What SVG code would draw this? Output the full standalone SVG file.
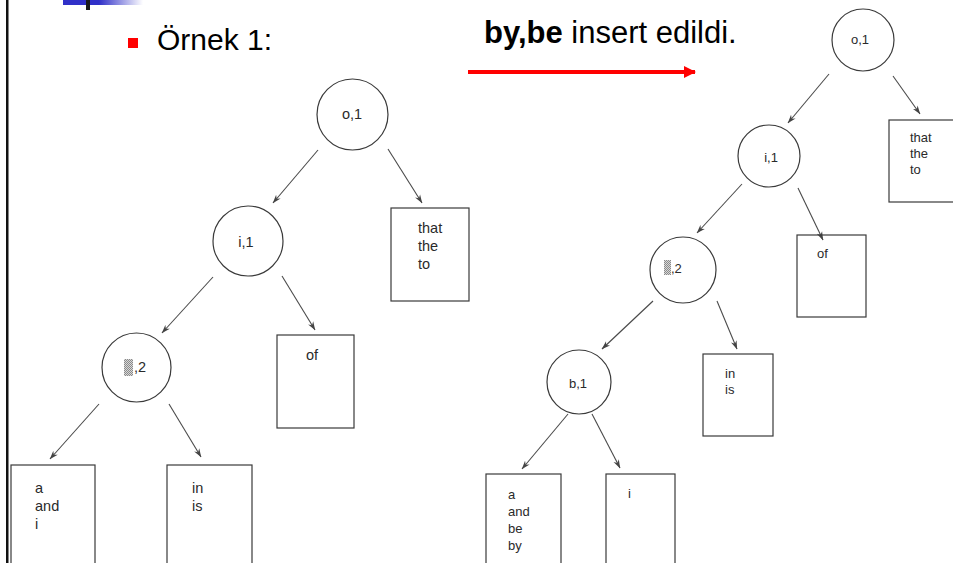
<svg xmlns="http://www.w3.org/2000/svg" width="953" height="563" viewBox="0 0 953 563">
  <defs>
    <linearGradient id="barFade" x1="0" y1="0" x2="1" y2="0">
      <stop offset="0" stop-color="#3030c8"/>
      <stop offset="0.45" stop-color="#3030c8"/>
      <stop offset="1" stop-color="#3030c8" stop-opacity="0"/>
    </linearGradient>
    <pattern id="stipple" width="2" height="2" patternUnits="userSpaceOnUse">
      <rect width="2" height="2" fill="#d8d8d8"/>
      <rect width="1" height="1" fill="#8a8a8a"/>
      <rect x="1" y="1" width="1" height="1" fill="#8a8a8a"/>
    </pattern>
    <marker id="tip" viewBox="0 0 10 8" refX="9.5" refY="4" markerWidth="9" markerHeight="7" markerUnits="userSpaceOnUse" orient="auto">
      <path d="M0,0.6 L10,4 L0,7.4 L3,4 Z" fill="#444"/>
    </marker>
    <marker id="redTip" viewBox="0 0 12 12" refX="11" refY="6" markerWidth="12" markerHeight="12" markerUnits="userSpaceOnUse" orient="auto">
      <path d="M0,0 L12,6 L0,12 Z" fill="#ff0000"/>
    </marker>
  </defs>
  <style>
    .node { fill: none; stroke: #3a3a3a; stroke-width: 1.2; }
    .lbl { font-family: "Liberation Sans", Arial, sans-serif; fill: #2a2a2a; }
    .lbL { font-size: 14.5px; }
    .lbR { font-size: 13px; }
    .edge { stroke: #4a4a4a; stroke-width: 1.1; fill: none; marker-end: url(#tip); }
    .title { font-family: "Liberation Sans", Arial, sans-serif; fill: #000; }
  </style>

  <rect width="953" height="563" fill="#ffffff"/>

  <!-- slide frame and header accents -->
  <rect x="6" y="0" width="2.5" height="563" fill="#111"/>
  <rect x="63" y="0" width="80" height="5" fill="url(#barFade)"/>
  <rect x="86" y="0" width="4" height="10" fill="#1a1a1a"/>

  <rect x="128" y="38" width="10" height="10" fill="#ff0000"/>
  <text class="title" x="157" y="50" font-size="30">Örnek 1:</text>
  <text class="title" x="484" y="43" font-size="31"><tspan font-weight="bold">by,be</tspan> insert edildi.</text>
  <line x1="468" y1="72" x2="695" y2="72" stroke="#ff0000" stroke-width="4" marker-end="url(#redTip)"/>

  <!-- connectors -->
  <g id="connectors">
    <!-- tree before insertion -->
    <line class="edge" x1="318" y1="150" x2="273" y2="203"/>
    <line class="edge" x1="388" y1="149" x2="422" y2="203"/>
    <line class="edge" x1="213" y1="277" x2="162" y2="333"/>
    <line class="edge" x1="282" y1="276" x2="315" y2="330"/>
    <line class="edge" x1="99" y1="404" x2="50" y2="459"/>
    <line class="edge" x1="169" y1="404" x2="201" y2="457"/>
    <!-- tree after insertion -->
    <line class="edge" x1="829" y1="74" x2="788" y2="123"/>
    <line class="edge" x1="893" y1="76" x2="920" y2="114"/>
    <line class="edge" x1="742" y1="184" x2="697" y2="233"/>
    <line class="edge" x1="798" y1="188" x2="823" y2="240"/>
    <line class="edge" x1="653" y1="301" x2="602" y2="349"/>
    <line class="edge" x1="717" y1="301" x2="737" y2="349"/>
    <line class="edge" x1="568" y1="414" x2="522" y2="469"/>
    <line class="edge" x1="592" y1="414" x2="620" y2="468"/>
  </g>

  <!-- tree before insertion -->
  <g id="L-o1">
    <circle class="node" cx="352.5" cy="114.5" r="35.5"/>
    <text class="lbl lbL" x="352" y="119" text-anchor="middle">o,1</text>
  </g>
  <g id="L-i1">
    <circle class="node" cx="248" cy="241" r="35"/>
    <text class="lbl lbL" x="246" y="247" text-anchor="middle">i,1</text>
  </g>
  <g id="L-blank2">
    <circle class="node" cx="136.5" cy="367.5" r="34.5"/>
    <rect x="124" y="359" width="9" height="17" fill="url(#stipple)"/>
    <text class="lbl lbL" x="134" y="372">,2</text>
  </g>
  <g id="L-that">
    <rect class="node" x="391" y="208" width="78" height="93"/>
    <text class="lbl lbL" x="418" y="233">that</text>
    <text class="lbl lbL" x="418" y="251">the</text>
    <text class="lbl lbL" x="418" y="269">to</text>
  </g>
  <g id="L-of">
    <rect class="node" x="277" y="335" width="77" height="93"/>
    <text class="lbl lbL" x="306" y="360">of</text>
  </g>
  <g id="L-a">
    <rect class="node" x="11" y="465" width="84" height="110"/>
    <text class="lbl lbL" x="35" y="493">a</text>
    <text class="lbl lbL" x="35" y="511">and</text>
    <text class="lbl lbL" x="35" y="529">i</text>
  </g>
  <g id="L-in">
    <rect class="node" x="167" y="465" width="85" height="110"/>
    <text class="lbl lbL" x="192" y="493">in</text>
    <text class="lbl lbL" x="192" y="511">is</text>
  </g>

  <!-- tree after insertion -->
  <g id="R-o1">
    <circle class="node" cx="863" cy="40" r="31"/>
    <text class="lbl lbR" x="860" y="44" text-anchor="middle">o,1</text>
  </g>
  <g id="R-i1">
    <circle class="node" cx="769" cy="156" r="31"/>
    <text class="lbl lbR" x="771" y="162" text-anchor="middle">i,1</text>
  </g>
  <g id="R-blank2">
    <circle class="node" cx="683" cy="270" r="33"/>
    <rect x="664" y="260" width="7" height="15" fill="url(#stipple)"/>
    <text class="lbl lbR" x="671" y="273">,2</text>
  </g>
  <g id="R-b1">
    <circle class="node" cx="579" cy="382" r="32"/>
    <text class="lbl lbR" x="578" y="388" text-anchor="middle">b,1</text>
  </g>
  <g id="R-that">
    <rect class="node" x="889" y="120" width="80" height="82"/>
    <text class="lbl lbR" x="910" y="142">that</text>
    <text class="lbl lbR" x="910" y="158">the</text>
    <text class="lbl lbR" x="910" y="174">to</text>
  </g>
  <g id="R-of">
    <rect class="node" x="797" y="235" width="69" height="82"/>
    <text class="lbl lbR" x="817" y="258">of</text>
  </g>
  <g id="R-in">
    <rect class="node" x="703" y="354" width="70" height="82"/>
    <text class="lbl lbR" x="725" y="378">in</text>
    <text class="lbl lbR" x="725" y="394">is</text>
  </g>
  <g id="R-a">
    <rect class="node" x="486" y="474" width="75" height="100"/>
    <text class="lbl lbR" x="508" y="499">a</text>
    <text class="lbl lbR" x="508" y="516">and</text>
    <text class="lbl lbR" x="508" y="533">be</text>
    <text class="lbl lbR" x="508" y="550">by</text>
  </g>
  <g id="R-i">
    <rect class="node" x="606" y="474" width="69" height="100"/>
    <text class="lbl lbR" x="628" y="498">i</text>
  </g>
</svg>
